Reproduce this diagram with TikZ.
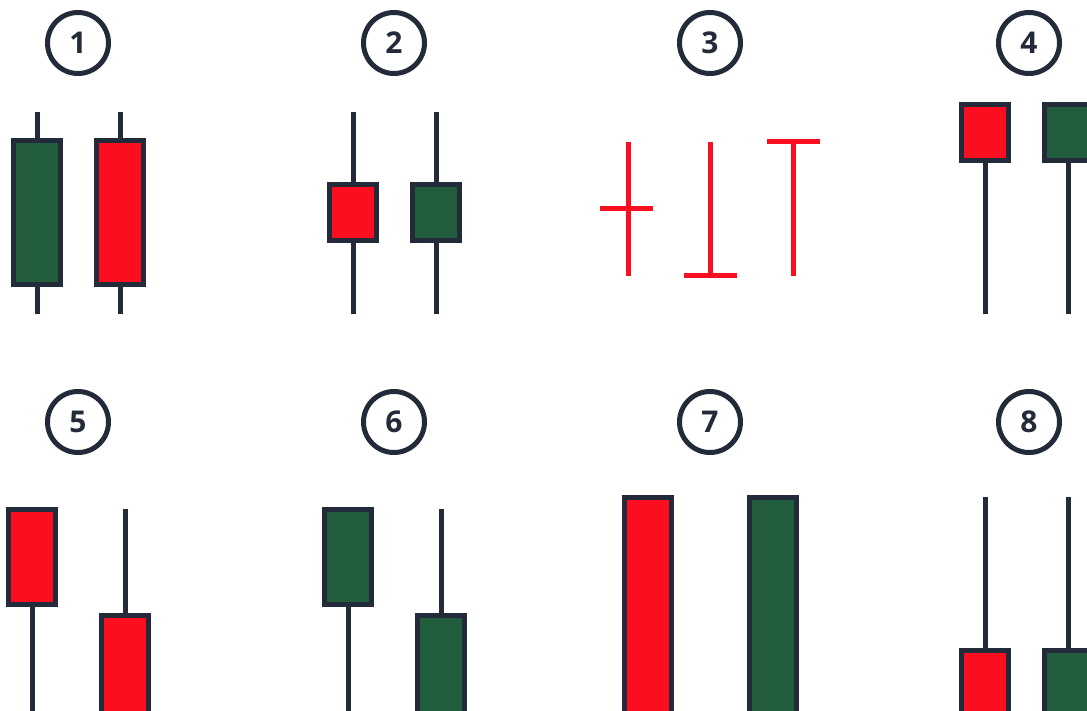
\documentclass[tikz,border=0pt]{standalone}
\usepackage{fontspec}
\setsansfont{Open Sans}
\usetikzlibrary{positioning}
\definecolor{ink}{HTML}{232B3A}
\definecolor{bear}{HTML}{FC0E21}
\definecolor{bull}{HTML}{225E3E}

\begin{document}
\begin{tikzpicture}[x=1pt,y=-1pt,node distance=83pt,on grid,
	num/.style={circle,draw=ink,line width=5pt,minimum size=61pt,inner sep=0pt,text=ink,font=\sffamily\bfseries\fontsize{30}{30}\selectfont},
	body/.style={rectangle,draw=ink,line width=5pt,minimum width=47pt,inner sep=0pt},
	bullbody/.style={body,fill=bull},
	bearbody/.style={body,fill=bear},
	wick/.style={draw=ink,line width=5pt},
	doji/.style={draw=bear,line width=5pt}]
	\useasboundingbox (0,0) rectangle (1087,711);
	\clip (0,0) rectangle (1087,711);

	% pattern numbers
	\node[num] (n1) at (78,43) {1};
	\node[num] (n2) at (394,43) {2};
	\node[num] (n3) at (710,43) {3};
	\node[num] (n4) at (1029,43) {4};
	\node[num] (n5) at (78,422) {5};
	\node[num] (n6) at (394,422) {6};
	\node[num] (n7) at (710,422) {7};
	\node[num] (n8) at (1029,422) {8};

	% wick ends
	\coordinate (hi1) at (0,112);
	\coordinate (lo1) at (0,314);
	\coordinate (hi2) at (0,509);
	\coordinate (hi3) at (0,497);
	\coordinate (lo2) at (0,720);

	% 1
	\node[bullbody,minimum height=144pt] (c1a) at (37,212.5) {};
	\node[bearbody,minimum height=144pt] (c1b) [right=of c1a] {};
	% 2
	\node[bearbody,minimum height=56pt] (c2a) at (353,212.5) {};
	\node[bullbody,minimum height=56pt] (c2b) [right=of c2a] {};
	% 4
	\node[bearbody,minimum height=56pt] (c4a) at (985,132.5) {};
	\node[bullbody,minimum height=56pt] (c4b) [right=of c4a] {};
	% 5
	\node[bearbody,minimum height=95pt] (c5a) at (32,557) {};
	\node[bearbody,minimum height=120pt] (c5b) at (125,675.5) {};
	% 6
	\node[bullbody,minimum height=95pt] (c6a) at (348,557) {};
	\node[bullbody,minimum height=120pt] (c6b) at (441,675.5) {};
	% 7
	\node[bearbody,minimum height=240pt] (c7a) at (648,617.5) {};
	\node[bullbody,minimum height=240pt] (c7b) [right=125pt of c7a] {};
	% 8
	\node[bearbody,minimum height=80pt] (c8a) at (985,690.5) {};
	\node[bullbody,minimum height=80pt] (c8b) [right=of c8a] {};

	\path[wick]
	(c1a.north) -- (c1a.north |- hi1) (c1a.south) -- (c1a.south |- lo1)
	(c1b.north) -- (c1b.north |- hi1) (c1b.south) -- (c1b.south |- lo1)
	(c2a.north) -- (c2a.north |- hi1) (c2a.south) -- (c2a.south |- lo1)
	(c2b.north) -- (c2b.north |- hi1) (c2b.south) -- (c2b.south |- lo1)
	(c4a.south) -- (c4a.south |- lo1)
	(c4b.south) -- (c4b.south |- lo1)
	(c5a.south) -- (c5a.south |- lo2)
	(c5b.north) -- (c5b.north |- hi2)
	(c6a.south) -- (c6a.south |- lo2)
	(c6b.north) -- (c6b.north |- hi2)
	(c8a.north) -- (c8a.north |- hi3)
	(c8b.north) -- (c8b.north |- hi3);

	% 3: doji
	\draw[doji] (628,142) -- (628,276) (600,209) -- (653,209);
	\draw[doji] (710,142) -- (710,276) (684,276) -- (737,276);
	\draw[doji] (793,142) -- (793,276) (767,141.5) -- (820,141.5);
\end{tikzpicture}
\end{document}
